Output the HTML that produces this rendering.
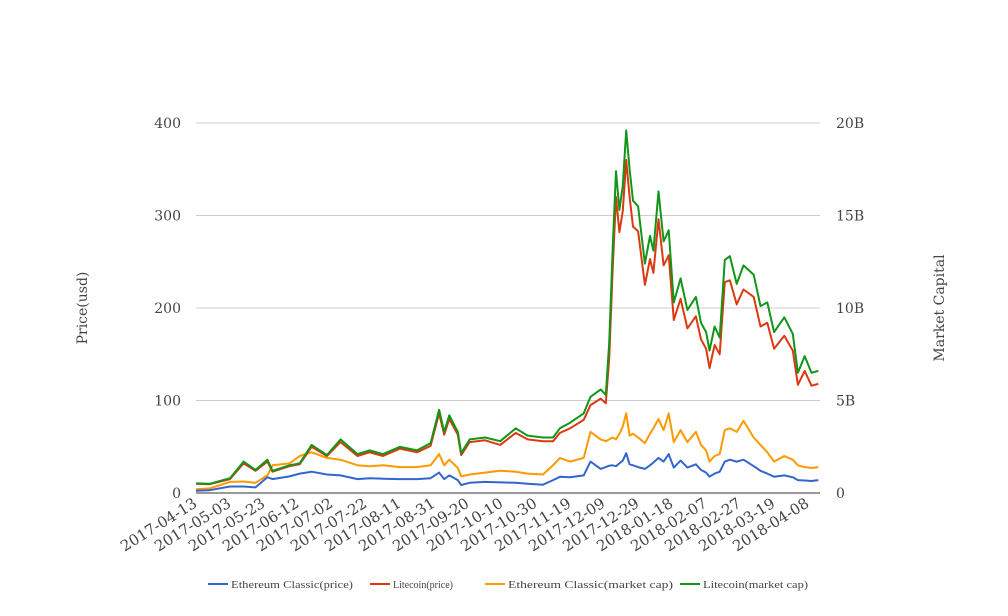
<!DOCTYPE html>
<html><head><meta charset="utf-8"><style>
body{margin:0;background:#fff}
svg{display:block}
text{font-family:"DejaVu Serif","Liberation Serif",serif;fill:#444}
</style></head><body>
<svg id="chart" width="1008" height="616" xmlns="http://www.w3.org/2000/svg">
<g id="grid"></g>
<g id="series"></g>
<g id="axes"></g>
<text x="87" y="308" transform="rotate(-90 87 308)" text-anchor="middle" font-size="14">Price(usd)</text>
<text x="944" y="308" transform="rotate(-90 944 308)" text-anchor="middle" font-size="14">Market Capital</text>
<g id="legend"></g>
</svg>
<script>
const dayOffsets=[0,8,20,28,35,42,45,55,61,68,77,85,95,102,110,120,130,138,143,146,149,154,156,161,170,179,188,195,204,210,214,220,228,232,238,241,243,245,247,249,251,253,255,257,260,264,267,269,272,275,278,281,285,289,294,297,300,302,305,308,311,314,318,322,328,332,336,340,346,351,354,358,362,366];
const etcPrice=[2.5,3,7,7,6,17,15,18,21,23,20,19,15,16,15.5,15,15,16,22,15,19,14,8.6,11,12,11.5,11,10,9,14,17.5,17,19,34,26,28,29.5,30,29,32,35,43,31,30,28,26,30,33,38,34,42,27.5,35,27.5,31,25,22,17.6,21,23,34,36,34,36,29,24,21,17.6,19,17,14,13.5,13,14];
const ltcPrice=[10,9.5,15,32,24,34,23,29,31,50,40,55,40,44,40,48,44,51,86,63,80,63,41,55,57,52,65,58,56,56,65,70,79,95,102,97,145,240,320,282,305,360,320,288,283,225,253,238,296,246,257,187,210,178,191,166,156,135,160,150,228,230,204,220,212,180,184,156,170,154,117,132,116,118];
const etcCap=[0.2,0.25,0.6,0.62,0.55,0.95,1.5,1.6,2.0,2.2,1.9,1.8,1.5,1.45,1.5,1.4,1.4,1.5,2.1,1.5,1.8,1.35,0.9,1.0,1.1,1.2,1.15,1.05,1.0,1.5,1.9,1.7,1.9,3.3,2.9,2.8,2.9,3.0,2.9,3.2,3.6,4.3,3.1,3.2,3.0,2.7,3.2,3.5,4.0,3.4,4.3,2.75,3.4,2.75,3.3,2.6,2.3,1.7,2.0,2.1,3.4,3.5,3.3,3.9,3.0,2.6,2.2,1.7,2.0,1.8,1.5,1.4,1.35,1.4];
const ltcCap=[0.52,0.5,0.8,1.7,1.25,1.8,1.2,1.5,1.6,2.6,2.05,2.9,2.1,2.3,2.1,2.5,2.3,2.7,4.5,3.3,4.2,3.3,2.15,2.9,3.0,2.8,3.5,3.1,3.0,3.0,3.5,3.8,4.3,5.2,5.6,5.3,8.1,13.1,17.4,15.3,16.6,19.6,17.5,15.8,15.5,12.4,13.9,13.1,16.3,13.6,14.2,10.3,11.6,9.9,10.6,9.2,8.7,7.7,9.0,8.4,12.6,12.8,11.3,12.3,11.8,10.1,10.3,8.7,9.5,8.6,6.5,7.4,6.5,6.6];
const xTickLabels=["2017-04-13","2017-05-03","2017-05-23","2017-06-12","2017-07-02","2017-07-22","2017-08-11","2017-08-31","2017-09-20","2017-10-10","2017-10-30","2017-11-19","2017-12-09","2017-12-29","2018-01-18","2018-02-07","2018-02-27","2018-03-19","2018-04-08"];
const leftTicks=[0,100,200,300,400];
const rightTickLabels=["0","5B","10B","15B","20B"];
const seriesNames=["Ethereum Classic(price)","Litecoin(price)","Ethereum Classic(market cap)","Litecoin(market cap)"];
const seriesColors=["#3366cc","#dc3912","#ff9900","#109618"];

const X0=196,X1=820,Y0=493,Y1=123,DAYS=367;
const xs=d=>X0+d*(X1-X0)/DAYS;
const yL=v=>Y0-v*(Y0-Y1)/400;
const yR=v=>Y0-v*(Y0-Y1)/20;
const NS="http://www.w3.org/2000/svg";
function mk(tag,parent){const e=document.createElementNS(NS,tag);parent.appendChild(e);return e;}
const grid=document.getElementById('grid'),axes=document.getElementById('axes'),ser=document.getElementById('series'),leg=document.getElementById('legend');
leftTicks.forEach((t,i)=>{
  const y=yL(t);
  if(t>0){const l=mk('line',grid);l.setAttribute('x1',X0);l.setAttribute('x2',X1);l.setAttribute('y1',y);l.setAttribute('y2',y);l.setAttribute('stroke','#ccc');
  
  }
  const a=mk('text',axes);a.setAttribute('x',181);a.setAttribute('y',y+5);a.setAttribute('text-anchor','end');a.setAttribute('font-size','14');a.textContent=t;
  
  
  const b=mk('text',axes);b.setAttribute('x',836);b.setAttribute('y',y+5);b.setAttribute('font-size','14');b.textContent=rightTickLabels[i];
  
  
});
const base=mk('line',axes);base.setAttribute('x1',X0);base.setAttribute('x2',X1);base.setAttribute('y1',Y0);base.setAttribute('y2',Y0);base.setAttribute('stroke','#333');


xTickLabels.forEach((s,i)=>{
  const x=xs(i*20)+2,y=Y0+13;
  const t=mk('text',axes);t.setAttribute('x',x);t.setAttribute('y',y);t.setAttribute('text-anchor','end');t.setAttribute('font-size','15');
  t.setAttribute('transform','rotate(-32 '+x+' '+y+')');t.textContent=s;
  
  
});
const data=[[etcPrice,yL],[ltcPrice,yL],[etcCap,yR],[ltcCap,yR]];
const order=[2,0,1,3];
order.forEach(k=>{
  const [arr,fy]=data[k];
  const p=mk('polyline',ser);
  p.setAttribute('points',arr.map((v,i)=>xs(dayOffsets[i]).toFixed(1)+','+fy(v).toFixed(1)).join(' '));
  p.setAttribute('fill','none');p.setAttribute('stroke',seriesColors[k]);p.setAttribute('stroke-width','2');p.setAttribute('stroke-linejoin','round');
  
  
});
const legX=[208,370,485,680];
const legW=[122,60,165,105];
seriesNames.forEach((n,k)=>{
  const g=mk('g',leg);
  
  
  const l=mk('line',g);l.setAttribute('x1',legX[k]);l.setAttribute('x2',legX[k]+20);l.setAttribute('y1',584);l.setAttribute('y2',584);l.setAttribute('stroke',seriesColors[k]);l.setAttribute('stroke-width','2');
  const t=mk('text',g);t.setAttribute('x',legX[k]+23);t.setAttribute('y',588);t.setAttribute('font-size','11');t.setAttribute('textLength',legW[k]);t.setAttribute('lengthAdjust','spacingAndGlyphs');t.setAttribute('style','font-family:"Liberation Serif",serif');t.textContent=n;
});
</script>
</body></html>
